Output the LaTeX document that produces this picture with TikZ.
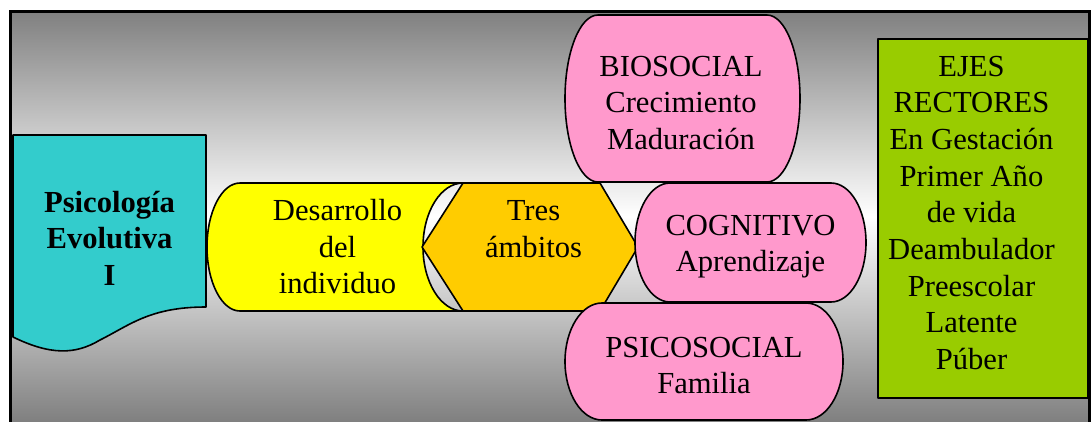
\documentclass[tikz,border=0pt]{standalone}
\usepackage{fontspec}
\setmainfont{Liberation Serif}
\definecolor{bggray}{RGB}{128,128,128}
\definecolor{cyanc}{RGB}{51,204,204}
\definecolor{yellowc}{RGB}{255,255,0}
\definecolor{orangec}{RGB}{255,204,0}
\definecolor{pinkc}{RGB}{255,153,204}
\definecolor{greenc}{RGB}{153,204,0}
\begin{document}
\begin{tikzpicture}[x=1pt,y=-1pt,
  shp/.style={draw=black, line width=1.6pt, line join=round},
  txt/.style={anchor=base, inner sep=0pt, font=\fontsize{30.6}{36.7}\selectfont}]
\useasboundingbox (0,0) rectangle (1091,421);
\begin{scope}
\clip (0,0) rectangle (1091,421);
% background gradient
\fill[top color=bggray, bottom color=bggray, middle color=white] (10.5,11.5) rectangle (1089.5,421);
% cyan document shape
\draw[shp, fill=cyanc] (13,135) -- (206,135) -- (206,307)
  .. controls (150,307) and (130,325) .. (100,340)
  .. controls (75,355) and (50,355) .. (13,337) -- cycle;
% yellow stored-data shape
\draw[shp, fill=yellowc] (240,183) -- (463,183)
  arc[start angle=270, end angle=90, x radius=40, y radius=64]
  -- (240,311)
  arc[start angle=90, end angle=270, x radius=33, y radius=64] -- cycle;
% orange hexagon
\draw[shp, fill=orangec] (463,183) -- (600,183) -- (638,247) -- (600,311) -- (463,311) -- (422,247) -- cycle;
% pink rounded boxes
\draw[shp, fill=pinkc] (598,15) -- (767,15)
  arc[start angle=270, end angle=450, x radius=33, y radius=83.5]
  -- (598,182)
  arc[start angle=90, end angle=270, x radius=33, y radius=83.5] -- cycle;
\draw[shp, fill=pinkc] (670,183) -- (831,183)
  arc[start angle=270, end angle=450, x radius=35, y radius=59.5]
  -- (670,302)
  arc[start angle=90, end angle=270, x radius=35, y radius=59.5] -- cycle;
\draw[shp, fill=pinkc] (602,303) -- (806,303)
  arc[start angle=270, end angle=450, x radius=37, y radius=58.5]
  -- (602,420)
  arc[start angle=90, end angle=270, x radius=37, y radius=58.5] -- cycle;
% green box
\draw[shp, fill=greenc] (878,39) rectangle (1088,398);
% frame
\draw[line width=3pt] (10.5,460) -- (10.5,11.5) -- (1089.5,11.5) -- (1089.5,460);
\end{scope}
% texts
\node[txt] (psi) at (109.5,212) {\begin{tabular}[t]{@{}c@{}}\textbf{Psicología}\\\textbf{Evolutiva}\\\textbf{I}\end{tabular}};
\node[txt] (des) at (337.5,220.5) {\begin{tabular}[t]{@{}c@{}}Desarrollo\\del\\individuo\end{tabular}};
\node[txt] (tres) at (533.5,220.5) {\begin{tabular}[t]{@{}c@{}}Tres\\ámbitos\end{tabular}};
\node[txt] (bio) at (681,76) {\begin{tabular}[t]{@{}c@{}}BIOSOCIAL\\Crecimiento\\Maduración\end{tabular}};
\node[txt] (cog) at (750.5,235) {\begin{tabular}[t]{@{}c@{}}COGNITIVO\\Aprendizaje\end{tabular}};
\node[txt] (psoc) at (704,357) {\begin{tabular}[t]{@{}c@{}}PSICOSOCIAL\\Familia\end{tabular}};
\node[txt] (ejes) at (971.5,76) {\begin{tabular}[t]{@{}c@{}}EJES\\RECTORES\\En Gestación\\Primer Año\\de vida\\Deambulador\\Preescolar\\Latente\\Púber\end{tabular}};
\end{tikzpicture}
\end{document}
